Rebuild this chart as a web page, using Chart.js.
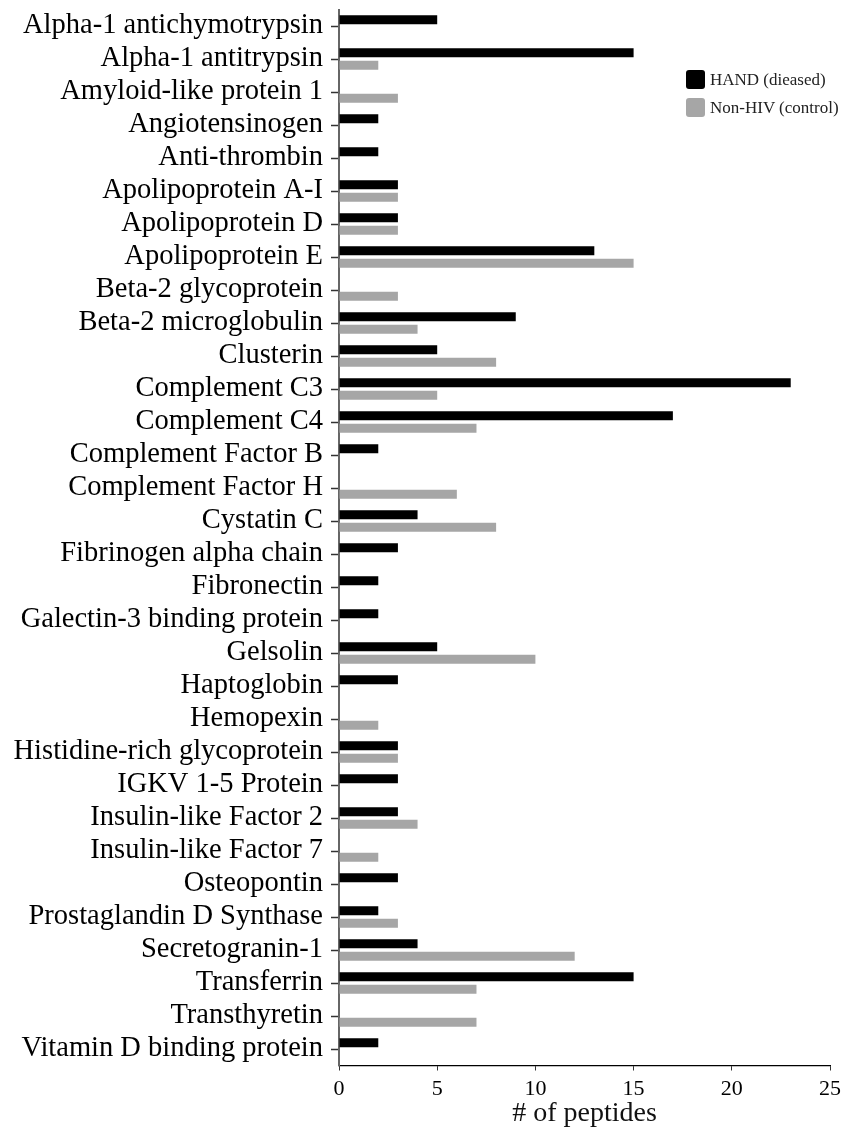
<!DOCTYPE html>
<html>
<head>
<meta charset="utf-8">
<script src="https://cdn.jsdelivr.net/npm/chart.js@4.4.1/dist/chart.umd.min.js"></script>
<style>
  html, body { margin: 0; padding: 0; background: #fff; }
  #wrap { position: relative; width: 847px; height: 1128px; }
  #legend { position: absolute; left: 686px; top: 70px; font-family: "Liberation Serif", "Times New Roman", serif; font-size: 17px; color: #222; }
  .item { display: flex; align-items: center; height: 19px; margin-bottom: 9px; }
  .swatch { width: 19px; height: 19px; border-radius: 3px; margin-right: 5px; }
</style>
</head>
<body>
<div id="wrap">
  <canvas id="chart" width="847" height="1128"></canvas>
  <div id="legend"></div>
</div>
<script>
// Proteins identified in CSF, peptide counts per group
const proteins = [
  "Alpha-1 antichymotrypsin", "Alpha-1 antitrypsin", "Amyloid-like protein 1",
  "Angiotensinogen", "Anti-thrombin", "Apolipoprotein A-I", "Apolipoprotein D",
  "Apolipoprotein E", "Beta-2 glycoprotein", "Beta-2 microglobulin", "Clusterin",
  "Complement C3", "Complement C4", "Complement Factor B", "Complement Factor H",
  "Cystatin C", "Fibrinogen alpha chain", "Fibronectin", "Galectin-3 binding protein",
  "Gelsolin", "Haptoglobin", "Hemopexin", "Histidine-rich glycoprotein",
  "IGKV 1-5 Protein", "Insulin-like Factor 2", "Insulin-like Factor 7", "Osteopontin",
  "Prostaglandin D Synthase", "Secretogranin-1", "Transferrin", "Transthyretin",
  "Vitamin D binding protein"
];

const handPeptides = [5, 15, 0, 2, 2, 3, 3, 13, 0, 9, 5, 23, 17, 2, 0, 4, 3, 2, 2, 5, 3, 0, 3, 3, 3, 0, 3, 2, 4, 15, 0, 2];
const controlPeptides = [0, 2, 3, 0, 0, 3, 3, 15, 3, 4, 8, 5, 7, 0, 6, 8, 0, 0, 0, 10, 0, 2, 3, 0, 4, 2, 0, 3, 12, 7, 7, 0];

const seriesNames = ["HAND (dieased)", "Non-HIV (control)"];
const seriesColors = ["#000000", "#a6a6a6"];
const xTicks = [0, 5, 10, 15, 20, 25];

const serif = '"Liberation Serif", "Times New Roman", serif';

new Chart(document.getElementById("chart"), {
  type: "bar",
  data: {
    labels: proteins,
    datasets: [
      { label: seriesNames[0], data: handPeptides, backgroundColor: seriesColors[0] },
      { label: seriesNames[1], data: controlPeptides, backgroundColor: seriesColors[1] }
    ]
  },
  options: {
    indexAxis: "y",
    responsive: false,
    animation: false,
    layout: { padding: { top: 9.5, right: 16, left: 0, bottom: 0 } },
    datasets: { bar: { categoryPercentage: 0.76, barPercentage: 0.72, borderWidth: 0 } },
    plugins: { legend: { display: false }, tooltip: { enabled: false } },
    scales: {
      x: {
        min: xTicks[0],
        max: xTicks[xTicks.length - 1],
        afterBuildTicks: (scale) => { scale.ticks = xTicks.map(v => ({ value: v })); },
        afterFit: (scale) => { scale.height = 62.5; },
        grid: { drawOnChartArea: false, drawTicks: true, tickLength: 5, color: "#333" },
        border: { display: true, color: "#000", width: 1.2 },
        ticks: { color: "#000", padding: 6, font: { family: serif, size: 22 } },
        title: {
          display: true, text: "# of peptides", color: "#111",
          font: { family: serif, size: 28, lineHeight: 1.0 }, padding: { top: 0, bottom: 0 }
        }
      },
      y: {
        afterFit: (scale) => { scale.width = 339; },
        grid: { offset: false, drawOnChartArea: false, drawTicks: true, tickLength: 8, tickWidth: 1.5, color: "#333" },
        border: { display: true, color: "#666", width: 2 },
        ticks: { color: "#000", padding: 8, autoSkip: false, font: { family: serif, size: 28.5, lineHeight: 0.05 } }
      }
    }
  }
});

// Legend built from the series names and colours
const legend = document.getElementById("legend");
seriesNames.forEach((name, i) => {
  const item = document.createElement("div");
  item.className = "item";
  const sw = document.createElement("span");
  sw.className = "swatch";
  sw.style.background = seriesColors[i];
  const txt = document.createElement("span");
  txt.textContent = name;
  item.appendChild(sw);
  item.appendChild(txt);
  legend.appendChild(item);
});
</script>
</body>
</html>
